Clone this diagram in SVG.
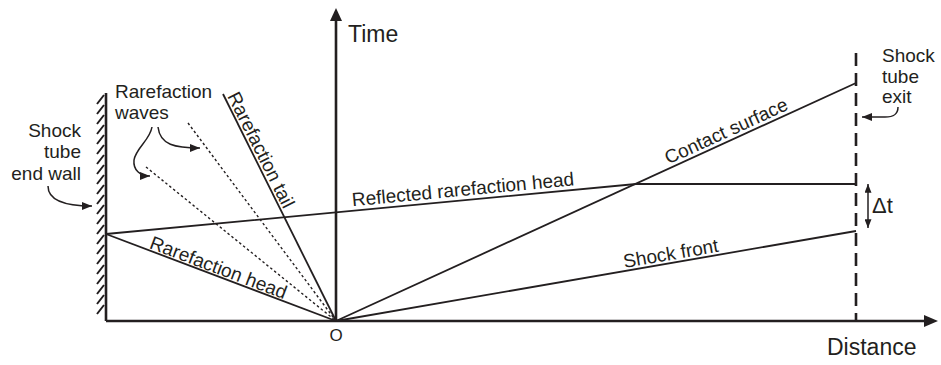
<svg xmlns="http://www.w3.org/2000/svg" width="941" height="365" viewBox="0 0 941 365">
<defs>
<style>
text{font-family:"Liberation Sans",Arial,sans-serif;fill:#231f20;font-size:19px}
.ln{stroke:#231f20;stroke-width:1.8;fill:none}
.ax{stroke:#231f20;stroke-width:2.6;fill:none}
.dot{stroke:#231f20;stroke-width:1.4;stroke-dasharray:2.5 2.5;fill:none}
.cv{stroke:#231f20;stroke-width:1.5;fill:none;marker-end:url(#ah)}
</style>
<marker id="ah" viewBox="0 0 10 8" refX="10" refY="4" markerWidth="10" markerHeight="8" markerUnits="userSpaceOnUse" orient="auto">
<path d="M0 0L10 4L0 8z" fill="#231f20"/>
</marker>
<marker id="ah2" viewBox="0 0 10 8" refX="10" refY="4" markerWidth="9" markerHeight="7" markerUnits="userSpaceOnUse" orient="auto-start-reverse">
<path d="M0 0L10 4L0 8z" fill="#231f20"/>
</marker>
</defs>
<rect width="941" height="365" fill="#fff"/>

<g id="axes">
<path class="ax" d="M106 321H926"/>
<path d="M938 321L924 315V327z" fill="#231f20"/>
<path class="ax" d="M336 321V20"/>
<path d="M336 8L330 21H342z" fill="#231f20"/>
<text x="348" y="42" style="font-size:23px">Time</text>
<text x="827" y="355" style="font-size:23px">Distance</text>
<text x="336" y="341" text-anchor="middle" style="font-size:17px">O</text>
</g>

<g id="end-wall">
<path class="ax" d="M106 93V321"/>
<path stroke="#231f20" stroke-width="2" fill="none" d="M97 104L104 95M97 114L104 105M97 124L104 115M97 134L104 125M97 144L104 135M97 154L104 145M97 164L104 155M97 174L104 165M97 184L104 175M97 194L104 185M97 204L104 195M97 214L104 205M97 224L104 215M97 234L104 225M97 244L104 235M97 254L104 245M97 264L104 255M97 274L104 265M97 284L104 275M97 294L104 285M97 304L104 295M97 314L104 305"/>
<text x="81" y="137" text-anchor="end">Shock</text>
<text x="81" y="158" text-anchor="end">tube</text>
<text x="81" y="180" text-anchor="end">end wall</text>
</g>

<g id="shock-tube-exit">
<path class="ax" stroke-dasharray="13 7" d="M856 53V321"/>
<text x="882" y="62">Shock</text>
<text x="882" y="83">tube</text>
<text x="882" y="103">exit</text>
</g>

<g id="rarefaction-waves-label">
<text x="115" y="98">Rarefaction</text>
<text x="115" y="119">waves</text>
</g>

<g id="delta-t">
<path stroke="#231f20" stroke-width="1.5" fill="none" marker-start="url(#ah2)" marker-end="url(#ah2)" d="M868 184V228"/>
<text x="872" y="213" style="font-size:22px">Δt</text>
</g>

<g id="connectors">
<path class="ln" d="M106 234L336 321"/>
<path class="ln" d="M106 234L636 184H856"/>
<path class="ln" d="M336 321L856 231"/>
<path class="ln" d="M336 321L856 83"/>
<path class="ln" d="M223 94L336 321"/>
<path class="dot" d="M188 123L336 321"/>
<path class="dot" d="M146 167L336 321"/>
<path class="cv" d="M158 127C160 145 175 148 200 148"/>
<path class="cv" d="M152 127C150 140 136 148 134 160C133 170 140 176 150 176"/>
<path class="cv" d="M48 186C48 200 65 206 92 206"/>
<path class="cv" d="M898 107C898 115 893 117 885 117L862 117"/>
</g>

<g id="line-labels">
<text transform="translate(227 96) rotate(63.5)">Rarefaction tail</text>
<text transform="translate(148.5 248) rotate(20.7)">Rarefaction head</text>
<text transform="translate(352.6 206.2) rotate(-5.4)">Reflected rarefaction head</text>
<text transform="translate(668.3 164.6) rotate(-24.6)">Contact surface</text>
<text transform="translate(624.5 268) rotate(-9.8)">Shock front</text>
</g>
</svg>
